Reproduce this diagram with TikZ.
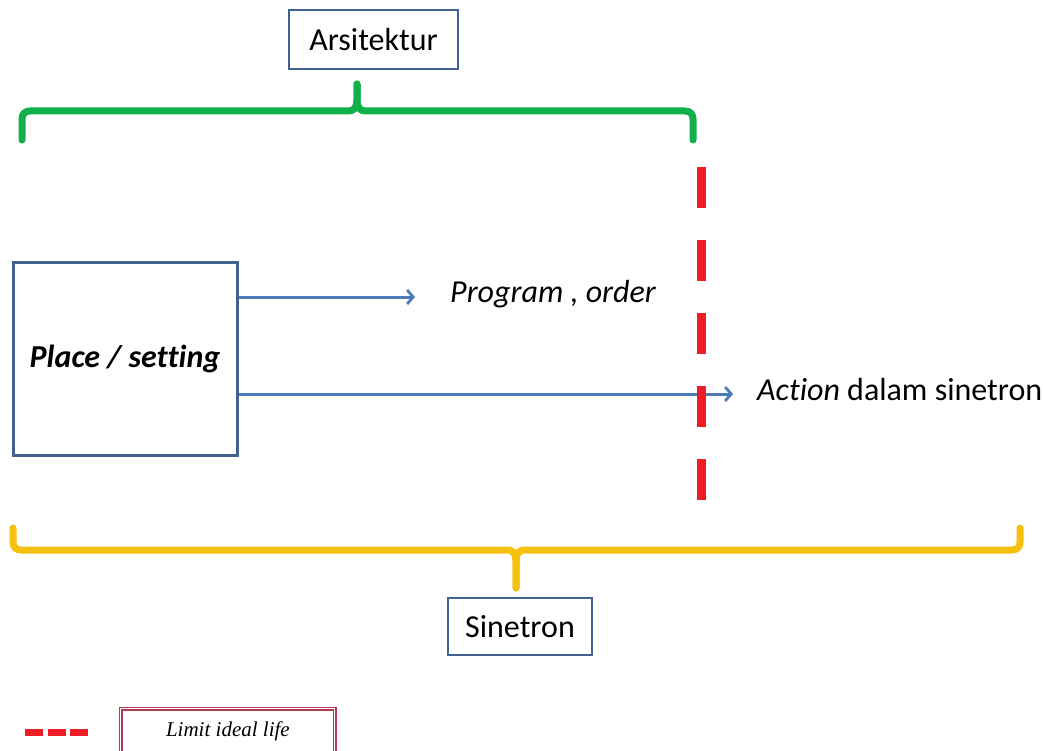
\documentclass[tikz,border=0pt]{standalone}
\usepackage{fontspec}
\setmainfont[Ligatures=NoCommon]{Carlito}
\newfontfamily\legendfont{Liberation Serif}
\usetikzlibrary{arrows.meta}
\definecolor{boxblue}{HTML}{41628F}
\definecolor{arrowblue}{HTML}{4F7CB8}
\definecolor{bracegreen}{HTML}{12B04A}
\definecolor{braceyellow}{HTML}{F6C10E}
\definecolor{limitred}{HTML}{EE1C25}
\definecolor{legendframe}{HTML}{B23A52}
\tikzset{
  labelbox/.style={draw=boxblue, line width=1.2pt, fill=white, inner sep=0pt,
    font=\fontsize{32}{36}\selectfont},
  placebox/.style={draw=boxblue, line width=3pt, fill=white, inner sep=0pt,
    font=\fontsize{32}{36}\selectfont\bfseries\itshape},
  flow/.style={draw=arrowblue, line width=3pt,
    -{Straight Barb[length=6pt,width=14pt,line width=2.8pt]}},
  sidetext/.style={inner sep=0pt, anchor=west, font=\fontsize{32}{36}\selectfont},
  brace/.style={line width=7pt, line cap=round, line join=round},
  limitline/.style={draw=limitred, line width=9pt, dash pattern=on 41pt off 32pt},
}
\begin{document}
\begin{tikzpicture}[x=1pt, y=-1pt]
\useasboundingbox (0,0) rectangle (1043,751);
\fill[white] (0,0) rectangle (1043,751);

% title boxes
\node[labelbox, minimum width=169pt, minimum height=59pt] (arsi) at (373.5,39.5) {Arsitektur};
\node[labelbox, minimum width=144pt, minimum height=57pt] (sine) at (520,626.5) {Sinetron};

% green brace under the architecture label
\coordinate (gtip) at (357,84);
\draw[brace, bracegreen] (22,140) -- (22,119) .. controls (22,114) and (25,111) .. (30,111) -- (349,111)
  .. controls (354,111) and (357,107) .. (357,100) -- (gtip);
\draw[brace, bracegreen] (gtip) -- (357,100) .. controls (357,107) and (360,111) .. (365,111)
  -- (685,111) .. controls (690,111) and (693,114) .. (693,119) -- (693,140);

% yellow brace above the Sinetron label
\coordinate (ytip) at (516,588);
\draw[brace, braceyellow] (13,528) -- (13,542) .. controls (13,547) and (16,550) .. (21,550) -- (508,550)
  .. controls (513,550) and (516,554) .. (516,561) -- (ytip);
\draw[brace, braceyellow] (ytip) -- (516,561) .. controls (516,554) and (519,550) .. (524,550)
  -- (1012,550) .. controls (1017,550) and (1020,547) .. (1020,542) -- (1020,528);

% place box and its outputs
\node[placebox, minimum width=224pt, minimum height=193pt] (place) at (125,358.5) {Place / setting};
\node[sidetext, font=\fontsize{32}{36}\selectfont\itshape] (prog) at (450,294) {Program , order};
\node[sidetext] (action) at (757,390) {\textit{Action} dalam sinetron};
\coordinate (progend) at (415,297);
\coordinate (actend) at (733,394);
\draw[flow] (place.east |- progend) -- (progend);
\draw[flow] (place.east |- actend) -- (actend);

% limit of ideal life
\coordinate (limtop) at (701,167);
\coordinate (limbot) at (701,504);
\draw[limitline] (limtop) -- (limbot);

% legend
\coordinate (legA) at (25,732);
\coordinate (legB) at (88,732);
\draw[draw=limitred, line width=7pt, dash pattern=on 18pt off 4.5pt] (legA) -- (legB);
\node[draw=legendframe, line width=1.8pt, double=white, double distance=1pt, fill=white,
  minimum width=214pt, minimum height=50pt, inner sep=0pt, anchor=north west,
  font=\fontsize{21}{24}\selectfont\legendfont\itshape] (legend) at (120,708) {\raisebox{10pt}{Limit ideal life}};
\end{tikzpicture}
\end{document}
